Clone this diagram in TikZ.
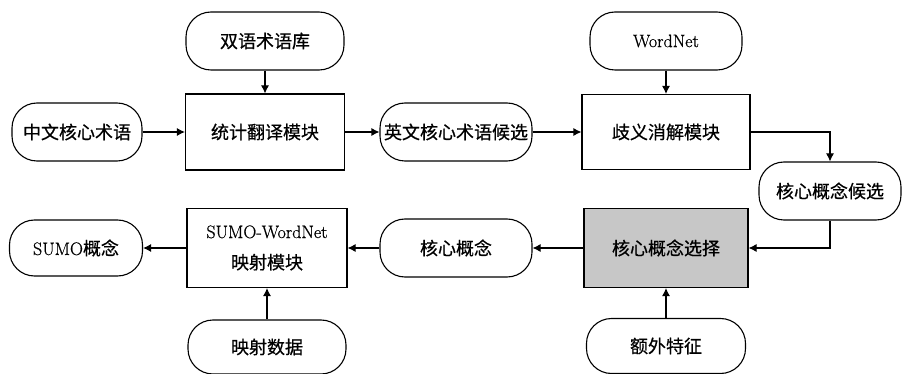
\documentclass[tikz,border=0pt]{standalone}
\usepackage{fontspec}
\setmainfont{Latin Modern Roman}[FakeBold=0.6]
\newfontfamily\cjk{Noto Sans CJK SC}[FakeBold=0.6]
\usetikzlibrary{arrows.meta}
\tikzset{
  base/.style={draw, line width=1.1pt, align=center, inner sep=0pt,
    font=\fontsize{18}{22}\selectfont},
  pill/.style={base, rounded corners=25pt},
  boxnode/.style={base},
  conn/.style={line width=1.1pt, -{Latex[length=8pt,width=8pt]}},
}
\begin{document}
\begin{tikzpicture}[x=1pt,y=-1pt]
\useasboundingbox (0,0) rectangle (905,374);
\node[pill, minimum width=158pt, minimum height=58pt] (lib) at (265,41) {\cjk 双语术语库};
\node[boxnode, minimum width=159pt, minimum height=76pt] (trans) at (265,132) {\cjk 统计翻译模块};
\node[pill, minimum width=130pt, minimum height=58pt] (zh) at (77,132) {\cjk 中文核心术语};
\node[pill, minimum width=152pt, minimum height=58pt] (en) at (456,132) {\cjk 英文核心术语候选};
\node[pill, minimum width=152pt, minimum height=58pt] (wn) at (666,41) {WordNet};
\node[boxnode, minimum width=168pt, minimum height=75pt] (wsd) at (666,132) {\cjk 歧义消解模块};
\node[pill, minimum width=142pt, minimum height=58pt] (cand) at (830,191) {\cjk 核心概念候选};
\node[boxnode, fill=black!22, minimum width=164pt, minimum height=79pt] (sel) at (666,248) {\cjk 核心概念选择};
\node[pill, minimum width=152pt, minimum height=58pt] (core) at (456,248) {\cjk 核心概念};
\node[boxnode, minimum width=160pt, minimum height=79pt] (map) at (267,248) {SUMO-WordNet\\[9pt]{\cjk 映射模块}};
\node[pill, minimum width=133pt, minimum height=56pt] (sumo) at (76,248) {SUMO{\cjk 概念}};
\node[pill, minimum width=158pt, minimum height=54pt] (data) at (267,347) {\cjk 映射数据};
\node[pill, minimum width=159pt, minimum height=55pt] (extra) at (666,346) {\cjk 额外特征};
\draw[conn] (lib) -- (trans);
\draw[conn] (zh) -- (trans);
\draw[conn] (trans) -- (en);
\draw[conn] (en) -- (wsd);
\draw[conn] (wn) -- (wsd);
\draw[conn] (wsd.east) -| (cand.north);
\draw[conn] (cand.south) |- (sel.east);
\draw[conn] (sel) -- (core);
\draw[conn] (core) -- (map);
\draw[conn] (map) -- (sumo);
\draw[conn] (data) -- (map);
\draw[conn] (extra) -- (sel);
\end{tikzpicture}
\end{document}
